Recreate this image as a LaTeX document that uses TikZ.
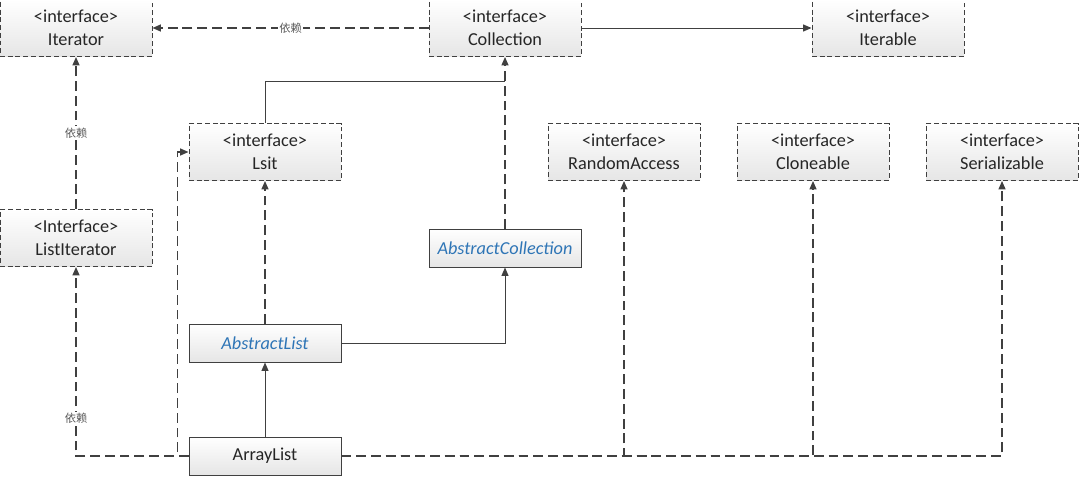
\documentclass[tikz,border=0pt]{standalone}
\usepackage{fontspec}
\setmainfont{Carlito}
\newfontfamily\cjkfont{Noto Sans CJK SC}
\usetikzlibrary{positioning, arrows.meta, calc}
\usepackage{xcolor}
\definecolor{linegray}{HTML}{404040}
\definecolor{classblue}{HTML}{2E75B6}

\begin{document}
\begin{tikzpicture}[
  iface/.style={rectangle, draw=linegray, dash pattern=on 3.5pt off 2pt,
                top color=white, bottom color=black!10,
                minimum width=3.8cm, minimum height=1.425cm, align=center,
                font=\fontsize{13}{16}\selectfont, text=black!85, line width=0.7pt},
  cls/.style={rectangle, draw=linegray, solid,
              top color=white, bottom color=black!10,
              minimum width=3.8cm, minimum height=0.95cm, align=center,
              font=\fontsize{13}{16}\selectfont, text=black!85, line width=0.7pt},
  abstr/.style={cls, font=\fontsize{13}{16}\selectfont\itshape, text=classblue},
  dep/.style={-{Triangle[length=6pt, width=5pt]}, draw=linegray,
              dash pattern=on 7pt off 3.5pt, line width=0.9pt},
  ext/.style={-{Triangle[length=6pt, width=5pt]}, draw=linegray, line width=0.7pt},
  deplbl/.style={font=\cjkfont\fontsize{8}{9}\selectfont, text=black!65,
                 fill=white, inner sep=1pt}
]
\useasboundingbox (0,0) rectangle (27,-11.95);

% ==================== INTERFACES ====================
\node[iface] (iter)   at (1.9,-0.7)    {<interface>\\Iterator};
\node[iface] (coll)   at (12.625,-0.7) {<interface>\\Collection};
\node[iface] (itbl)   at (22.2,-0.7)   {<interface>\\Iterable};
\node[iface] (lsit)   at (6.625,-3.8)  {<interface>\\Lsit};
\node[iface] (rand)   at (15.6,-3.8)   {<interface>\\RandomAccess};
\node[iface] (clone)  at (20.325,-3.8) {<interface>\\Cloneable};
\node[iface] (serial) at (25.05,-3.8)  {<interface>\\Serializable};
\node[iface] (listit) at (1.9,-5.95)   {<Interface>\\ListIterator};

% ==================== CLASSES ====================
\node[abstr] (abcoll)  at (12.625,-6.2) {AbstractCollection};
\node[abstr] (ablist)  at (6.625,-8.575) {AbstractList};
\node[cls]   (arrlist) at (6.625,-11.4)  {ArrayList};

% ==================== ARROWS ====================
\coordinate (jn) at ($(coll.south)+(0,-0.6)$);

\draw[dep] (coll.west) -- node[deplbl]{依赖} (iter.east);
\draw[ext] (coll.east) -- (itbl.west);
\draw[ext, -] (lsit.north) |- (jn);
\draw[dep] (abcoll.north) -- (coll.south);
\draw[dep] (ablist.north) -- (lsit.south);
\draw[ext] (ablist.east) -| (abcoll.south);
\draw[ext] (arrlist.north) -- (ablist.south);
\draw[dep] (listit.north) -- node[deplbl]{依赖} (iter.south);

\draw[dep] (arrlist.west) -| node[deplbl, pos=0.6]{依赖} (listit.south);
\draw[dep] (arrlist.west) -- ++(-0.275,0) |- (lsit.west);
\draw[dep] (arrlist.east) -| (rand.south);
\draw[dep] (arrlist.east) -| (clone.south);
\draw[dep] (arrlist.east) -| (serial.south);

\end{tikzpicture}
\end{document}
